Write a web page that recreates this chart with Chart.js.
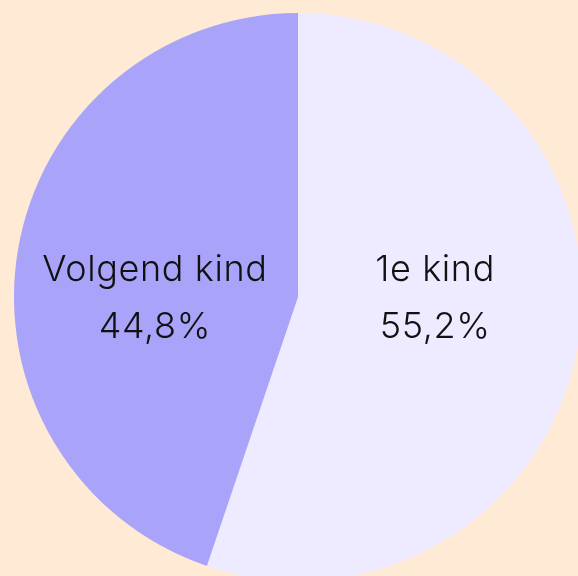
<!DOCTYPE html>
<html>
<head>
<meta charset="utf-8">
<script src="https://cdn.jsdelivr.net/npm/chart.js@4/dist/chart.umd.min.js"></script>
<style>
html,body{margin:0;padding:0;background:#FFEAD6;overflow:hidden;width:578px;height:576px;}
#wrap{position:absolute;left:0;top:0;width:596px;height:594px;}
</style>
</head>
<body>
<div id="wrap"><canvas id="c"></canvas></div>
<script>
const categories = ["1e kind", "Volgend kind"];
const values = [55.2, 44.8];
const valueLabels = ["55,2%", "44,8%"];
const colors = ["#EEEAFF", "#AAA3FA"];

const labelPlugin = {
  id: 'sliceLabels',
  afterDatasetsDraw(chart) {
    const ctx = chart.ctx;
    const meta = chart.getDatasetMeta(0);
    const cy = (chart.chartArea.top + chart.chartArea.bottom) / 2;
    ctx.save();
    ctx.fillStyle = '#111111';
    ctx.font = '300 36px Inter, "Noto Sans", sans-serif';
    if ('letterSpacing' in ctx) ctx.letterSpacing = '0.6px';
    ctx.textAlign = 'center';
    ctx.textBaseline = 'alphabetic';
    meta.data.forEach((arc, i) => {
      const p = arc.tooltipPosition();
      const x = p.x - 3;
      ctx.fillText(categories[i], x, cy - 16);
      ctx.fillText(valueLabels[i], x, cy + 41);
    });
    ctx.restore();
  }
};

new Chart(document.getElementById('c'), {
  type: 'pie',
  data: {
    labels: categories,
    datasets: [{
      data: values,
      backgroundColor: colors,
      borderWidth: 0
    }]
  },
  options: {
    responsive: true,
    maintainAspectRatio: false,
    animation: false,
    radius: 284,
    layout: { padding: 0 },
    plugins: { legend: { display: false }, tooltip: { enabled: false } }
  },
  plugins: [labelPlugin]
});
</script>
</body>
</html>
